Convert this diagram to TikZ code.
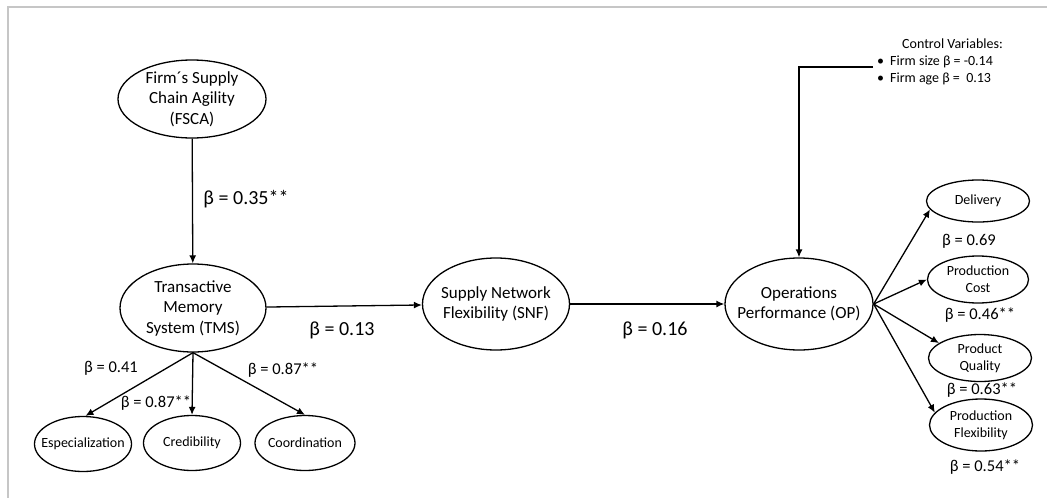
\documentclass[tikz,border=0pt]{standalone}
\usepackage{fontspec}
\setmainfont{Carlito}
\usetikzlibrary{arrows,arrows.meta,positioning,shapes}

\begin{document}
\begin{tikzpicture}[x=1pt,y=-1pt,>={Latex[length=8pt,width=7pt]},
        construct/.style={ellipse,draw,line width=1.3pt,inner xsep=-30pt,inner ysep=-20pt,align=center,font=\fontsize{17}{20.5}\selectfont},
        indicator/.style={ellipse,draw,line width=1.3pt,inner xsep=-30pt,inner ysep=-20pt,align=center,font=\fontsize{14}{17}\selectfont},
        link/.style={->,line width=1.3pt},
        coef/.style={font=\fontsize{20}{24}\selectfont},
        wt/.style={font=\fontsize{16.5}{20}\selectfont}]
        \useasboundingbox (0,0) rectangle (1047,498);
        \draw[gray!45,line width=2pt] (8,498) -- (8,7) -- (1047,7);

        \node[construct,minimum width=148pt,minimum height=78pt] (fsca) at (192,99) {Firm´s Supply\\Chain Agility\\(FSCA)};
        \node[construct,minimum width=146pt,minimum height=88pt] (tms) at (193,308) {Transactive\\Memory\\System (TMS)};
        \node[construct,minimum width=147pt,minimum height=92pt] (snf) at (496,304) {Supply Network\\Flexibility (SNF)};
        \node[construct,minimum width=148pt,minimum height=92pt] (op) at (799,304) {Operations\\Performance (OP)};

        \node[indicator,minimum width=97pt,minimum height=55pt] (esp) at (83,444) {Especialization};
        \node[indicator,minimum width=97pt,minimum height=55pt] (cred) at (192,443) {Credibility};
        \node[indicator,minimum width=100pt,minimum height=55pt] (coord) at (305,443) {Coordination};

        \node[indicator,minimum width=103pt,minimum height=42pt] (del) at (978,201) {Delivery};
        \node[indicator,minimum width=101pt,minimum height=47pt] (pcost) at (978,279.5) {Production\\Cost};
        \node[indicator,minimum width=103pt,minimum height=47pt] (pqual) at (980,358) {Product\\Quality};
        \node[indicator,minimum width=103pt,minimum height=52pt] (pflex) at (981,425) {Production\\Flexibility};

        \node[coef] (b1) at (246,199) {β = 0.35**};
        \node[coef] (b2) at (342,330) {β = 0.13};
        \node[coef] (b3) at (655,330) {β = 0.16};

        \node[wt] (w1) at (111,368) {β = 0.41};
        \node[wt] (w2) at (156,403) {β = 0.87**};
        \node[wt] (w3) at (283,370) {β = 0.87**};
        \node[wt] (w4) at (969,241) {β = 0.69};
        \node[wt] (w5) at (980,315) {β = 0.46**};
        \node[wt] (w6) at (982,390) {β = 0.63**};
        \node[wt] (w7) at (985,467) {β = 0.54**};

        \node[anchor=north west,inner sep=0pt,align=left,font=\fontsize{14}{17}\selectfont] (ctrl) at (877,39) {\hspace*{25pt}Control Variables:\\•\hspace{6pt}Firm size β = -0.14\\•\hspace{6pt}Firm age β =\ \ 0.13};
        \coordinate (cv) at (873,67);

        \draw[link] (fsca) -- (tms);
        \draw[link] (tms) -- (snf);
        \draw[link] (snf) -- (op);
        \draw[link] (tms.south) -- (esp.85);
        \draw[link] (tms.south) -- (cred.north);
        \draw[link] (tms.south) -- (coord.north);
        \draw[link] (op.east) -- (del.190);
        \draw[link] (op.east) -- (pcost.west);
        \draw[link] (op.east) -- (pqual.160);
        \draw[link] (op.east) -- (pflex.165);
        \draw[link] (cv) -| (op.north);
      \end{tikzpicture}
\end{document}
